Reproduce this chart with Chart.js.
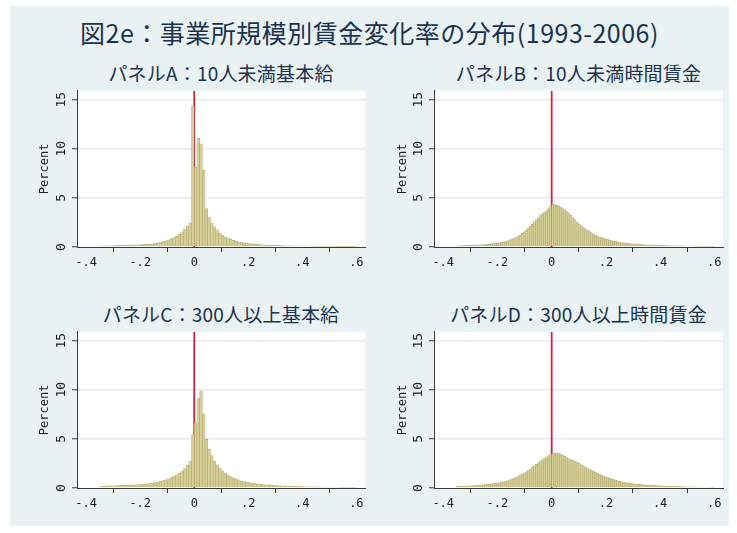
<!DOCTYPE html>
<html>
<head>
<meta charset="utf-8">
<script src="https://cdn.jsdelivr.net/npm/chart.js@4.4.1/dist/chart.umd.min.js"></script>
<style>
  html, body { margin: 0; padding: 0; background: #ffffff; }
  #wrap { position: relative; width: 737px; height: 533px; overflow: hidden; }
  #bg { position: absolute; left: 10px; top: 6px; width: 719px; height: 520px; background: #eaf2f3; }
  .ttl { position: absolute; text-align: center; color: #1a3352; font-family: "Noto Sans CJK JP", "Noto Sans", sans-serif; white-space: nowrap; }
  #main { left: 10px; width: 719px; top: 16px; font-size: 25px; line-height: 32px; letter-spacing: 0.5px; }
  .sub { font-size: 19px; line-height: 24px; letter-spacing: 0.2px; }
  canvas { position: absolute; }
</style>
</head>
<body>
<div id="wrap">
  <div id="bg"></div>
  <div id="main" class="ttl">図2e：事業所規模別賃金変化率の分布(1993-2006)</div>
  <div id="tA" class="ttl sub" style="left:77px;width:288px;top:61px;">パネルA：10人未満基本給</div>
  <div id="tB" class="ttl sub" style="left:434px;width:289px;top:61px;">パネルB：10人未満時間賃金</div>
  <div id="tC" class="ttl sub" style="left:77px;width:288px;top:302px;">パネルC：300人以上基本給</div>
  <div id="tD" class="ttl sub" style="left:434px;width:289px;top:302px;">パネルD：300人以上時間賃金</div>
  <canvas id="cA" width="350" height="200" style="left:20px;top:80px;"></canvas>
  <canvas id="cB" width="350" height="200" style="left:378px;top:80px;"></canvas>
  <canvas id="cC" width="350" height="200" style="left:20px;top:321px;"></canvas>
  <canvas id="cD" width="350" height="200" style="left:378px;top:321px;"></canvas>
</div>
<script>
// ---- Data (percent of observations per bin) ----
const xTicks = [-0.4, -0.2, 0, 0.2, 0.4, 0.6];
const xTickLabels = ['-.4', '-.2', '0', '.2', '.4', '.6'];
const yTicks = [0, 5, 10, 15];
const yTickLabels = ['0', '5', '10', '15'];
const yTitle = 'Percent';

// Panel A & C: bins of width 0.01 starting at -0.35
const binStartAC = -0.35;
const binWidthAC = 0.01;
// Panel B & D: bins of width 0.0075 starting at -0.3525
const binStartBD = -0.3525;
const binWidthBD = 0.0075;

const panelA = [
  0.11,0.12,0.13,0.13,0.14, 0.15,0.16,0.16,0.17,0.18,
  0.19,0.20,0.21,0.22,0.23, 0.24,0.26,0.28,0.30,0.33,
  0.37,0.42,0.48,0.55,0.62, 0.72,0.85,0.97,1.10,1.30,
  1.55,1.80,2.10,2.45,14.4,
  8.1,11.05,10.5,7.8,3.9,3.0,2.45,2.05,1.75,1.45,
  1.2,1.02,0.88,0.77,0.68,0.60,0.53,0.47,0.42,0.38,
  0.34,0.31,0.28,0.26,0.24,0.22,0.20,0.19,0.18,0.17,
  0.16,0.15,0.14,0.13,0.12,0.12,0.11,0.10,0.10,0.09,
  0.09,0.08,0.08,0.07,0.07,0.07,0.06,0.06,0.06,0.05,
  0.05,0.05,0.05,0.04,0.04,0.04,0.04,0.04,0.03,0.03
];

const panelC = [
  0.18,0.19,0.20,0.21,0.22, 0.23,0.24,0.25,0.26,0.27,
  0.29,0.30,0.31,0.32,0.34, 0.36,0.39,0.42,0.46,0.50,
  0.55,0.60,0.67,0.75,0.84, 0.94,1.06,1.20,1.35,1.52,
  1.73,1.98,2.30,2.75,5.45,
  6.65,9.1,9.87,7.55,4.95,3.95,3.3,2.75,2.35,2.02,
  1.75,1.52,1.33,1.17,1.04,0.93,0.83,0.74,0.66,0.59,
  0.54,0.50,0.46,0.42,0.39,0.36,0.33,0.31,0.29,0.27,
  0.25,0.23,0.22,0.21,0.20,0.19,0.18,0.17,0.16,0.15,
  0.14,0.13,0.13,0.12,0.12,0.11,0.11,0.10,0.10,0.09,
  0.09,0.08,0.08,0.08,0.07,0.07,0.07,0.06,0.06,0.06
];

const panelB = [
  0.12,0.13,0.14,0.14,0.15,0.16,0.17,
  0.18,0.19,0.20,0.21,0.22,0.23,0.24,0.26,0.27,0.29,
  0.31,0.34,0.37,0.40,0.43,0.47,0.52,0.58,0.65,0.72,
  0.80,0.88,0.97,1.08,1.20,1.40,1.55,1.72,1.90,2.10,
  2.30,2.55,2.80,3.00,3.25,3.40,3.55,3.70,3.90,4.15,
  4.45,4.32,4.25,4.18,4.05,3.92,3.75,3.60,3.42,3.22,
  3.00,2.78,2.56,2.36,2.18,2.00,1.87,1.74,1.60,1.47,
  1.35,1.24,1.13,1.04,0.96,0.89,0.83,0.77,0.71,0.66,
  0.61,0.57,0.53,0.50,0.46,0.43,0.40,0.37,0.35,0.33,
  0.31,0.29,0.28,0.26,0.25,0.24,0.23,0.22,0.21,0.20,
  0.19,0.18,0.17,0.17,0.16,0.15,0.15,0.14,0.13,0.13,
  0.12,0.12,0.11,0.11,0.10,0.10,0.09,0.09,0.08,0.08,
  0.07,0.07,0.07,0.06,0.06,0.05,0.05,0.05,0.04,0.04
];

const panelD = [
  0.15,0.16,0.17,0.18,0.19,0.20,0.21,
  0.23,0.24,0.25,0.27,0.29,0.31,0.33,0.35,0.37,0.39,
  0.42,0.45,0.48,0.52,0.56,0.60,0.65,0.70,0.76,0.83,
  0.90,0.98,1.07,1.17,1.28,1.40,1.52,1.65,1.78,1.93,
  2.08,2.25,2.40,2.55,2.75,2.90,3.05,3.18,3.30,3.45,
  3.50,3.52,3.57,3.50,3.42,3.33,3.22,3.10,2.98,2.90,
  2.82,2.72,2.62,2.50,2.38,2.27,2.15,2.03,1.92,1.81,
  1.70,1.60,1.50,1.40,1.31,1.22,1.14,1.06,0.99,0.92,
  0.86,0.80,0.74,0.69,0.64,0.60,0.56,0.52,0.49,0.46,
  0.43,0.41,0.39,0.37,0.35,0.33,0.31,0.30,0.28,0.27,
  0.26,0.25,0.24,0.23,0.22,0.21,0.20,0.19,0.18,0.17,
  0.17,0.16,0.15,0.15,0.14,0.13,0.13,0.12,0.12,0.11,
  0.11,0.10,0.10,0.09,0.09,0.08,0.08,0.08,0.07,0.07
];

const refLineX = 0;

// ---- Styling ----
const X_MIN = -0.434, X_MAX = 0.632, Y_MAX = 15.9;
const BAR_FILL = 'rgb(214,207,150)';
const BAR_EDGE = 'rgba(165,155,90,0.8)';
const LINE_COLOR = 'rgb(208,32,72)';
const AXIS_COLOR = '#3a3a3a';
const GRID_COLOR = '#e2ebee';
const TICK_FONT = { family: 'DejaVu Sans Mono', size: 12 };
const YTICK_FONT = { family: 'DejaVu Sans Mono', size: 13 };

const plotBg = {
  id: 'plotBg',
  beforeDraw(chart) {
    const a = chart.chartArea, ctx = chart.ctx;
    ctx.save();
    ctx.fillStyle = '#ffffff';
    ctx.fillRect(a.left, a.top, a.right - a.left, a.bottom - a.top);
    ctx.restore();
  }
};

function toPoints(values, start, width) {
  return values.map((v, i) => ({ x: start + (i + 0.5) * width, y: v }));
}

function makePanel(id, values, start, width, yAxisWidth) {
  new Chart(document.getElementById(id), {
    type: 'bar',
    data: {
      datasets: [
        {
          type: 'bar',
          data: toPoints(values, start, width),
          backgroundColor: BAR_FILL,
          borderColor: BAR_EDGE,
          borderWidth: 0.6,
          borderSkipped: 'start',
          barPercentage: 1,
          categoryPercentage: 1,
          order: 1
        },
        {
          type: 'line',
          data: [{ x: refLineX, y: 0 }, { x: refLineX, y: Y_MAX }],
          borderColor: LINE_COLOR,
          borderWidth: 1.8,
          pointRadius: 0,
          fill: false,
          order: 2
        }
      ]
    },
    options: {
      responsive: false,
      animation: false,
      devicePixelRatio: 1,
      layout: { padding: { top: 5, right: 5, left: 0, bottom: 0 } },
      plugins: { legend: { display: false }, tooltip: { enabled: false }, title: { display: false } },
      scales: {
        x: {
          type: 'linear',
          min: X_MIN,
          max: X_MAX,
          offset: false,
          afterBuildTicks: s => { s.ticks = xTicks.map(v => ({ value: v })); },
          afterFit: s => { s.height = 33; },
          ticks: {
            autoSkip: false,
            maxRotation: 0,
            padding: 4,
            color: '#222',
            font: TICK_FONT,
            callback: (v) => { const i = xTicks.findIndex(t => Math.abs(t - v) < 1e-9); return i >= 0 ? xTickLabels[i] : ''; }
          },
          grid: { drawOnChartArea: false, drawTicks: true, tickLength: 5, tickColor: AXIS_COLOR, tickWidth: 1 },
          border: { display: true, color: AXIS_COLOR, width: 1 }
        },
        y: {
          type: 'linear',
          min: 0,
          max: Y_MAX,
          afterBuildTicks: s => { s.ticks = yTicks.map(v => ({ value: v })); },
          afterFit: s => { s.width = yAxisWidth; },
          ticks: {
            autoSkip: false,
            minRotation: 90,
            maxRotation: 90,
            crossAlign: 'center',
            padding: 3,
            color: '#222',
            font: YTICK_FONT,
            callback: (v) => { const i = yTicks.indexOf(v); return i >= 0 ? yTickLabels[i] : ''; }
          },
          title: { display: true, text: yTitle, color: '#222', font: TICK_FONT, padding: { top: 18, bottom: 0 } },
          grid: {
            color: c => (c.tick && c.tick.value === 0) ? 'rgba(0,0,0,0)' : GRID_COLOR,
            lineWidth: 1.5,
            drawTicks: true, tickLength: 5, tickColor: AXIS_COLOR, tickWidth: 1
          },
          border: { display: true, color: AXIS_COLOR, width: 1 }
        }
      }
    },
    plugins: [plotBg]
  });
}

makePanel('cA', panelA, binStartAC, binWidthAC, 57);
makePanel('cB', panelB, binStartBD, binWidthBD, 56);
makePanel('cC', panelC, binStartAC, binWidthAC, 57);
makePanel('cD', panelD, binStartBD, binWidthBD, 56);
</script>
</body>
</html>
